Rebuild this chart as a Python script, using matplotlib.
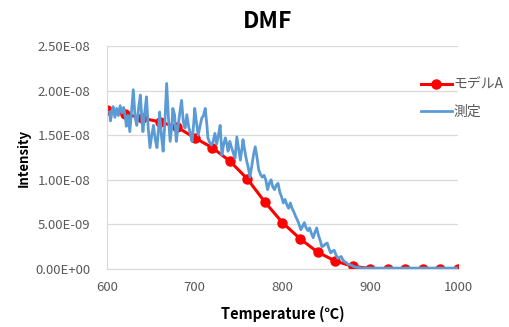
import matplotlib
matplotlib.use("Agg")
import matplotlib.pyplot as plt
import numpy as np

plt.rcParams['font.family'] = ['Noto Sans CJK JP', 'DejaVu Sans']

# モデルA (20℃刻み)
model_t = [600, 620, 640, 660, 680, 700, 720, 740, 760, 780, 800,
           820, 840, 860, 880, 900, 920, 940, 960, 980, 1000]
model_v = [17.8, 17.4, 16.9, 16.5, 15.9, 14.7, 13.6, 12.1, 10.1, 7.5, 5.2,
           3.4, 1.9, 0.9, 0.3, 0.05, 0.02, 0.01, 0.0, 0.0, 0.0]

# 測定データ
meas_t = [603, 604, 606, 607, 609, 611, 613, 615, 617, 619, 621, 622, 624, 626, 628,
          630, 632, 634, 636, 638, 640, 641, 643, 645, 647, 649, 651, 653, 655, 657,
          659, 660, 662, 664, 666, 668, 670, 672, 674, 675, 677, 679, 681, 683, 685,
          687, 689, 691, 693, 695, 697, 699, 700, 702, 704, 706, 708, 710, 712, 714,
          715, 717, 719, 721, 723, 725, 727, 729, 731, 733, 735, 737, 738, 740, 742,
          744, 746, 748, 750, 752, 754, 755, 757, 759, 761, 763, 765, 767, 769, 771,
          773, 775, 777, 779, 781, 783, 785, 787, 789, 791, 793, 795, 797, 799, 801,
          803, 805, 807, 809, 811, 813, 815, 817, 819, 821, 823, 825, 827, 829, 831,
          833, 835, 837, 839, 841, 843, 845, 847, 849, 851, 853, 855, 857, 859, 861,
          863, 865, 867, 869, 871, 873, 875, 877, 879, 881, 883, 885, 890, 900, 920,
          940, 960, 980, 1000]
meas_v = [17.6, 16.6, 17.8, 18.2, 17.0, 18.0, 17.2, 18.3, 17.5, 18.1, 17.0, 16.0, 17.2, 15.4, 17.8,
          20.1, 17.0, 16.1, 18.0, 19.5, 16.5, 15.4, 17.5, 19.3, 15.8, 13.6, 15.0, 16.1, 14.5, 13.6,
          16.0, 17.6, 15.0, 13.2, 16.5, 20.8, 17.0, 14.3, 16.1, 18.0, 17.3, 14.3, 16.0, 17.5, 18.9,
          16.5, 15.8, 17.3, 16.0, 15.2, 14.3, 16.5, 18.0, 16.4, 15.0, 16.0, 16.9, 17.2, 18.0, 16.0,
          14.7, 14.2, 13.9, 14.3, 15.2, 14.0, 15.0, 16.1, 12.8, 14.0, 14.7, 13.8, 13.2, 14.3, 13.6,
          13.0, 12.4, 14.8, 13.5, 12.2, 13.6, 14.5, 13.3, 12.2, 11.4, 10.3, 11.5, 12.8, 13.7, 12.5,
          11.1, 10.6, 10.3, 10.5, 10.0, 8.9, 9.6, 10.0, 9.2, 8.9, 9.4, 9.6, 8.6, 8.1, 7.4,
          7.8, 7.2, 6.8, 7.4, 6.8, 6.4, 5.9, 5.5, 5.0, 4.4, 4.8, 5.2, 4.6, 4.3, 4.6,
          4.0, 3.5, 4.1, 4.6, 3.8, 3.2, 2.5, 2.6, 2.8, 2.9, 2.3, 1.8, 2.0, 2.1, 1.6,
          1.2, 1.3, 1.4, 1.0, 0.8, 0.7, 0.5, 0.5, 0.4, 0.3, 0.2, 0.2, 0.1, 0.1, 0.1,
          0.1, 0.1, 0.1, 0.1]

yticks = [0, 5e-9, 1e-8, 1.5e-8, 2e-8, 2.5e-8]
xticks = [600, 700, 800, 900, 1000]

fig = plt.figure(figsize=(5.1, 3.27), dpi=100)
ax = fig.add_axes([0.2098, 0.1774, 0.688, 0.682])

ax.plot(meas_t, np.array(meas_v) * 1e-9, color='#5B9BD5', lw=2.0, label='測定', zorder=3)
ax.plot(model_t, np.array(model_v) * 1e-9, color='#FF0000', lw=2.2, marker='o',
        ms=6.5, label='モデルA', zorder=2)

ax.set_xlim(600, 1000)
ax.set_ylim(0, 2.5e-8)
ax.set_xticks(xticks)
ax.set_yticks(yticks)
ax.set_yticklabels(['%.2E' % v for v in yticks])
ax.tick_params(length=0, labelsize=9.5, colors='#595959', pad=12)
ax.tick_params(axis='x', pad=9)
ax.grid(axis='y', color='#D9D9D9', lw=0.9)
ax.set_axisbelow(True)
for s in ['top', 'right']:
    ax.spines[s].set_visible(False)
for s in ['left', 'bottom']:
    ax.spines[s].set_color('#D9D9D9')

ax.set_xlabel('Temperature (℃)', fontsize=10.5, fontweight='bold', labelpad=8)
ax.set_ylabel('Intensity', fontsize=9.5, fontweight='bold', labelpad=3)
fig.text(0.525, 0.933, 'DMF', ha='center', va='center', fontsize=16.5, fontweight='bold')

h, l = ax.get_legend_handles_labels()
leg = fig.legend(h[::-1], l[::-1], loc='upper left', bbox_to_anchor=(0.8, 0.8),
                 frameon=False, fontsize=10, handlelength=2.3, handletextpad=0.1,
                 labelspacing=0.9, labelcolor='#595959')

fig.savefig('out.png', dpi=100)
